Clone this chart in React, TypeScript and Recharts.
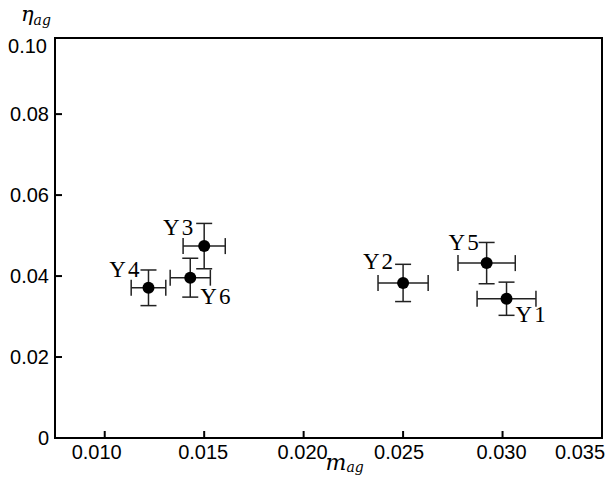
import { ScatterChart, Scatter, XAxis, YAxis, ErrorBar, ReferenceArea } from 'recharts';

// sample names and measured values (with error half-widths)
const names = ['Y1', 'Y2', 'Y3', 'Y4', 'Y5', 'Y6'];
const mag = [0.0302, 0.025, 0.015, 0.0122, 0.0292, 0.0143];
const magErr = [0.00148, 0.00126, 0.00106, 0.00087, 0.00144, 0.00101];
const etaAg = [0.0344, 0.0383, 0.0474, 0.0371, 0.0432, 0.0396];
const etaErr = [0.0041, 0.0046, 0.0056, 0.0044, 0.0051, 0.0048];

const xTicks = [0.01, 0.015, 0.02, 0.025, 0.03, 0.035];
const yTicks = [0, 0.02, 0.04, 0.06, 0.08, 0.1];

const xDomain: [number, number] = [0.0075, 0.035];
const yDomain: [number, number] = [0, 0.0988];

const data = names.map((name, i) => ({
  name,
  x: mag[i],
  y: etaAg[i],
  xErr: magErr[i],
  yErr: etaErr[i]
}));

// where each point's name sits relative to its marker
const labelPos: Record<string, { dx: number; dy: number; anchor: 'start' | 'end' }> = {
  Y1: { dx: 9, dy: 23, anchor: 'start' },
  Y2: { dx: -10, dy: -14, anchor: 'end' },
  Y3: { dx: -11, dy: -11, anchor: 'end' },
  Y4: { dx: -9, dy: -11, anchor: 'end' },
  Y5: { dx: -8, dy: -13, anchor: 'end' },
  Y6: { dx: 10, dy: 26, anchor: 'start' }
};

const sans = '"Liberation Sans", Arial, sans-serif';
const serif = '"Liberation Serif", "Times New Roman", serif';
const math = '"DejaVu Serif", serif';

const xLabelShift: Record<string, number> = { '0.010': -8, '0.025': -4, '0.035': -22 };

const XTick = (props: any) => {
  const { x, y, payload } = props;
  const v: number = payload.value;
  const txt = v.toFixed(3);
  const onBorder = v >= 0.035;
  return (
    <g>
      {!onBorder && <line x1={x} y1={y} x2={x} y2={y - 7} stroke="#000" strokeWidth={2} />}
      <text
        x={x + (xLabelShift[txt] ?? -1)}
        y={y + 20.5}
        textAnchor="middle"
        fontFamily={sans}
        fontSize={20}
        fill="#000"
      >
        {txt}
      </text>
    </g>
  );
};

const YTick = (props: any) => {
  const { x, y, payload } = props;
  const v: number = payload.value;
  const txt = v === 0 ? '0' : v.toFixed(2);
  const isTop = v >= 0.1;
  const isBottom = v === 0;
  return (
    <g>
      {!isTop && !isBottom && <line x1={x} y1={y} x2={x + 7} y2={y} stroke="#000" strokeWidth={2} />}
      <text
        x={x - (isTop ? 8 : 6)}
        y={y + 7 + (isTop ? 12.5 : 0)}
        textAnchor="end"
        fontFamily={sans}
        fontSize={20}
        fill="#000"
      >
        {txt}
      </text>
    </g>
  );
};

const PointShape = (props: any) => {
  const { cx, cy, payload } = props;
  const p = labelPos[payload.name];
  return (
    <g>
      <circle cx={cx} cy={cy} r={6} fill="#000" />
      <text
        x={cx + p.dx}
        y={cy + p.dy}
        textAnchor={p.anchor}
        fontFamily={serif}
        fontSize={23}
        fill="#000"
      >
        {payload.name[0]}
        <tspan dx={2}>{payload.name.slice(1)}</tspan>
      </text>
    </g>
  );
};

const XLabel = (props: any) => {
  const { viewBox } = props;
  const cx = viewBox.x + viewBox.width / 2;
  return (
    <text x={cx - 3} y={viewBox.y + 32} fontFamily={math} fontStyle="italic" fontSize={22} fill="#000">
      m
      <tspan fontSize={14} dy={2}>ag</tspan>
    </text>
  );
};

const YLabel = (props: any) => {
  const { viewBox } = props;
  return (
    <text x={21} y={viewBox.y - 17} fontFamily={math} fontStyle="italic" fontSize={21} fill="#000">
      η
      <tspan fontSize={14} dy={4}>ag</tspan>
    </text>
  );
};

export default function App() {
  return (
    <div style={{ position: 'absolute', left: 0, top: 0, background: '#fff' }}>
      <ScatterChart width={611} height={478} margin={{ top: 38, right: 9, bottom: 0, left: 0 }}>
        <XAxis
          type="number"
          dataKey="x"
          domain={xDomain}
          allowDataOverflow
          ticks={xTicks}
          interval={0}
          height={40}
          tickSize={0}
          tickMargin={0}
          tickLine={false}
          axisLine={{ stroke: '#000', strokeWidth: 2 }}
          tick={<XTick />}
          label={<XLabel />}
        />
        <YAxis
          type="number"
          dataKey="y"
          domain={yDomain}
          allowDataOverflow
          ticks={yTicks}
          interval={0}
          width={55}
          tickSize={0}
          tickMargin={0}
          tickLine={false}
          axisLine={{ stroke: '#000', strokeWidth: 2 }}
          tick={<YTick />}
          label={<YLabel />}
        />
        <ReferenceArea
          x1={xDomain[0]}
          x2={xDomain[1]}
          y1={yDomain[0]}
          y2={yDomain[1]}
          fill="none"
          fillOpacity={0}
          stroke="#000"
          strokeWidth={2}
        />
        <Scatter data={data} shape={<PointShape />} isAnimationActive={false}>
          <ErrorBar dataKey="xErr" direction="x" width={8} stroke="#222" strokeWidth={1.5} isAnimationActive={false} />
          <ErrorBar dataKey="yErr" direction="y" width={8} stroke="#222" strokeWidth={1.5} isAnimationActive={false} />
        </Scatter>
      </ScatterChart>
    </div>
  );
}
